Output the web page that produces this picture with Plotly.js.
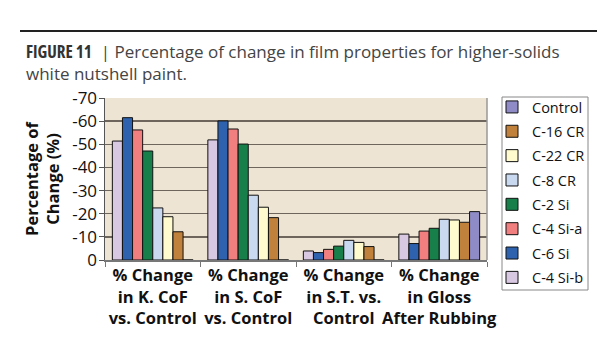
<!DOCTYPE html>
<html>
<head>
<meta charset="utf-8">
<script src="https://cdn.plot.ly/plotly-3.0.1.min.js"></script>
<style>html,body{margin:0;padding:0;background:#fff;}#chart{width:615px;height:350px;}</style>
</head>
<body>
<div id="chart"></div>
<script>
const categories = [
  "% Change<br>in K. CoF<br>vs. Control",
  "% Change<br>in S. CoF<br>vs. Control",
  "% Change<br>in S.T. vs.<br>Control",
  "% Change<br>in Gloss<br>After Rubbing"
];
// series in bar order (left to right within group)
const seriesNames = ["C-4 Si-b", "C-6 Si", "C-4 Si-a", "C-2 Si", "C-8 CR", "C-22 CR", "C-16 CR", "Control"];
const c4SiB  = [-51.4, -51.9, -3.9, -11.2];
const c6Si   = [-61.5, -60.1, -3.2, -7.1];
const c4SiA  = [-56.2, -56.6, -4.6, -12.5];
const c2Si   = [-47.1, -50.1, -6.0, -13.7];
const c8CR   = [-22.5, -28.0, -8.5, -17.6];
const c22CR  = [-18.7, -22.8, -7.6, -17.3];
const c16CR  = [-12.2, -18.3, -5.8, -16.3];
const control = [0, 0, 0, -20.9];
const seriesValues = [c4SiB, c6Si, c4SiA, c2Si, c8CR, c22CR, c16CR, control];
const colors = ["#D9C8E2", "#2E62AE", "#F27F80", "#17804A", "#C9D9F0", "#FFFBCF", "#C0813C", "#8E8BC6"];
const yTicks = [0, -10, -20, -30, -40, -50, -60, -70];

const traces = seriesNames.map((n, i) => ({
  type: "bar",
  name: n,
  x: categories,
  y: seriesValues[i],
  legendgroup: n,
  legendrank: 100 - i,
  marker: {color: colors[i], line: {color: "#111", width: 1}}
}));

const layout = {
  width: 615, height: 350,
  margin: {l: 105, r: 128, t: 98, b: 90},
  paper_bgcolor: "#ffffff",
  plot_bgcolor: "#EEE4D3",
  barmode: "group",
  bargap: 0.154,
  bargroupgap: 0,
  font: {family: "Open Sans, sans-serif", color: "#222"},
  title: {
    text: "<span style=\"font-family:'Open Sans';font-weight:bold;font-stretch:condensed;color:#333\">FIGURE 11</span>  | Percentage of change in film properties for higher-solids<br>white nutshell paint.",
    font: {family: "Open Sans, sans-serif", size: 17, color: "#444"},
    x: 26/615, xanchor: "left", xref: "container",
    y: 1 - 58/350, yanchor: "top", yref: "container"
  },
  xaxis: {
    type: "category",
    tickson: "boundaries",
    ticks: "outside", ticklen: 5, tickcolor: "#777",
    showline: true, linecolor: "#777", linewidth: 1.5,
    showgrid: false,
    tickfont: {family: "Open Sans, sans-serif", size: 16.5, color: "#111", weight: "bold"},
    tickangle: 0
  },
  yaxis: {
    range: [0, -70],
    tickvals: yTicks,
    ticktext: yTicks.map(v => String(v)),
    ticks: "outside", ticklen: 5, tickcolor: "#555",
    showline: true, linecolor: "#555", linewidth: 1.5,
    showgrid: true, gridcolor: "#6E655C", gridwidth: 1.5,
    zeroline: false,
    ticklabelstandoff: -2,
    tickfont: {family: "Open Sans, sans-serif", size: 17, color: "#111"},
    title: {
      text: "<b>Percentage of<br>Change (%)</b>",
      font: {family: "Open Sans, sans-serif", size: 16.5, color: "#111"},
      standoff: 8
    }
  },
  legend: {
    x: (492-105)/382, xanchor: "left",
    y: 1 + (98-91)/162, yanchor: "top",
    traceorder: "grouped",
    tracegroupgap: 2.5,
    maxheight: 260,
    borderwidth: 0,
    bgcolor: "rgba(0,0,0,0)",
    font: {family: "Open Sans, sans-serif", size: 14.5, color: "#111"}
  },
  shapes: [
    {type: "line", xref: "paper", yref: "paper", x0: (20-105)/382, x1: (597-105)/382,
     y0: 1 + (98-31)/162, y1: 1 + (98-31)/162, line: {color: "#222", width: 2}},
    {type: "line", xref: "paper", yref: "paper", x0: 1, x1: 1, y0: 0, y1: 1,
     line: {color: "#999", width: 1.5}},
    {type: "rect", xref: "paper", yref: "paper", x0: (502-105)/382, x1: (588-105)/382,
     y0: 1 + (98-290)/162, y1: 1 + (98-97)/162, line: {color: "#888", width: 1}, fillcolor: "rgba(0,0,0,0)"}
  ],
  showlegend: true
};

Plotly.newPlot("chart", traces, layout, {displayModeBar: false, staticPlot: true});
</script>
</body>
</html>
